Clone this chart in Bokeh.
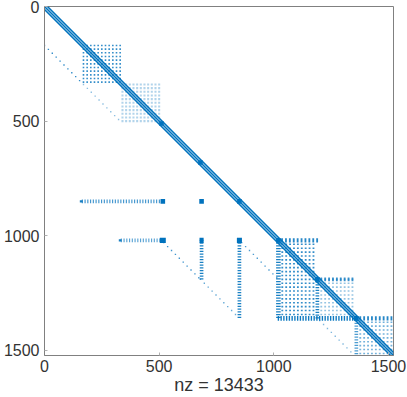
import numpy as np
from bokeh.plotting import figure
from bokeh.models import Range1d, FixedTicker
from bokeh.embed import file_html
from bokeh.resources import INLINE

x_ticks = [0, 500, 1000, 1500]
y_ticks = [0, 500, 1000, 1500]
x_title = "nz = 13433"
blue = "#0072BD"
n = 1522
# row0,row1,rowstep,col0,col1,colstep,dot_w,dot_h,alpha
blocks = [
 (170,331,16, 170,331,16, 7,7, 0.8),
 (340,501,16, 340,501,16, 9,9, 0.3),
 (850,851,1, 165,510,12, 5,16, 0.75),
 (1020,1021,1, 335,510,12, 5,16, 0.65),
 (850,851,1, 160,161,1, 12,10, 0.9),
 (1020,1021,1, 330,331,1, 12,10, 0.9),
 (850,851,1, 516,517,1, 20,20, 1.0),
 (850,851,1, 685,686,1, 20,20, 1.0),
 (1020,1021,1, 516,517,1, 26,22, 1.0),
 (1020,1190,12, 685,686,1, 16,5, 0.9),
 (1020,1360,12, 850,851,1, 16,5, 0.9),
 (1020,1021,1, 685,686,1, 18,22, 1.0),
 (1020,1021,1, 850,851,1, 22,22, 1.0),
 (1020,1360,12, 1020,1021,1, 20,6, 0.9),
 (1020,1021,1, 1036,1190,17, 8,18, 0.85),
 (1037,1360,17, 1037,1190,17, 8,7, 0.8),
 (1190,1360,17, 1207,1360,17, 8,7, 0.42),
 (1190,1360,12, 1190,1191,1, 16,6, 0.9),
 (1190,1191,1, 1207,1360,17, 8,16, 0.75),
 (1360,1361,1, 1020,1360,12, 6,20, 0.95),
 (1360,1361,1, 1377,1522,17, 8,18, 0.85),
 (1370,1522,12, 1360,1361,1, 16,6, 0.7),
 (1377,1522,17, 1377,1522,17, 8,7, 0.55),
]
diagonals = [(170,340,-170,17,0.8),(340,510,-170,17,0.45),(1030,1190,-170,17,0.7),
             (1370,1522,-170,17,0.5),(1030,1190,-510,17,0.75),(1190,1360,-510,17,0.6)]
band_offsets = [-13, 0, 13]
band_widths = [1.4, 1.3, 1.4]
hubs = [510, 680, 850, 1020, 1190, 1360]

p = figure(width=407, height=397, output_backend="svg", toolbar_location=None,
           x_range=Range1d(0, n), y_range=Range1d(n, 0), min_border_left=44, min_border_right=14,
           min_border_top=6, min_border_bottom=42, x_axis_label=x_title)
p.grid.visible = False
p.outline_line_color = "#808080"
for a in (p.xaxis[0], p.yaxis[0]):
    a.major_tick_in = 3; a.major_tick_out = 0; a.minor_tick_line_color = None
    a.axis_line_color = "#808080"; a.major_tick_line_color = "#b0b0b0"
    a.major_label_text_font = "Liberation Sans"; a.major_label_text_font_size = "16px"
    a.major_label_text_color = "#333333"
xa = p.xaxis[0]
xa.ticker = FixedTicker(ticks=x_ticks)
xa.major_label_standoff = 4
xa.axis_label_standoff = 0
xa.axis_label_text_font = "Liberation Sans"
xa.axis_label_text_font_size = "18px"
xa.axis_label_text_font_style = "normal"
xa.axis_label_text_color = "#333333"
p.yaxis[0].ticker = FixedTicker(ticks=y_ticks)
p.yaxis[0].major_label_standoff = 5

for r0, r1, rs, c0, c1, cs, w, h, a in blocks:
    xs, ys = [], []
    for r in np.arange(r0, r1, rs):
        for c in np.arange(c0, c1, cs):
            xs.append(c); ys.append(r)
    p.rect(xs, ys, width=w, height=h, fill_color=blue, fill_alpha=a, line_color=None)
for c0, c1, off, st, a in diagonals:
    ys = list(np.arange(c0, c1, st))
    xs = [y + off for y in ys]
    p.rect(xs, ys, width=6, height=6, fill_color=blue, fill_alpha=a, line_color=None)
p.line([0, n], [0, n], line_color=blue, line_width=5.5, line_alpha=0.28)
for off, w in zip(band_offsets, band_widths):
    ya = [max(0, -off), min(n, n - off)]
    p.line([ya[0] + off, ya[1] + off], ya, line_color=blue, line_width=w)
p.rect(hubs, hubs, width=20, height=20, fill_color=blue, line_color=None)

open("out.html", "w").write(file_html(p, INLINE))
